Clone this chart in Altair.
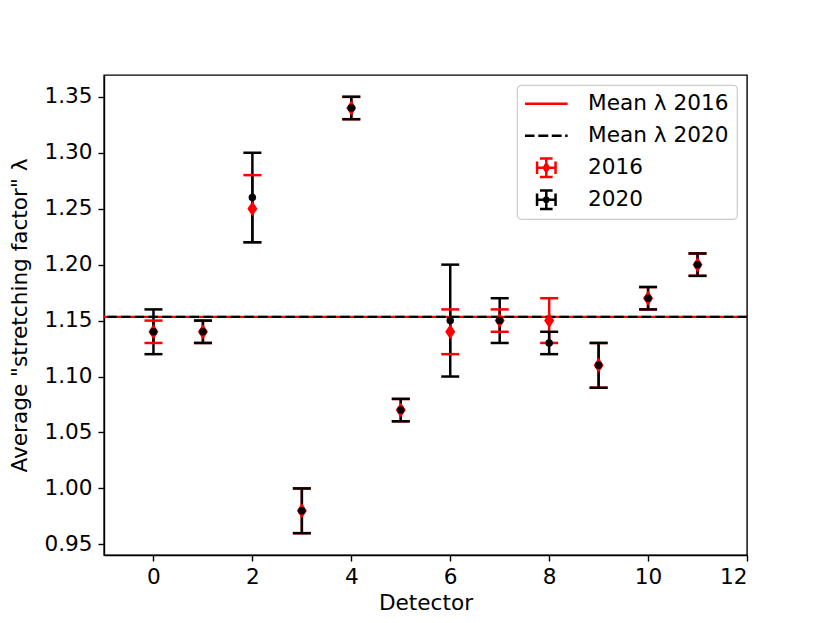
import altair as alt
import pandas as pd

# ---- data ----
detectors = [0, 1, 2, 3, 4, 5, 6, 7, 8, 9, 10, 11]
lam_2016 = [1.14, 1.14, 1.25, 0.98, 1.34, 1.07, 1.14, 1.15, 1.15, 1.11, 1.17, 1.20]
err_2016 = [0.01, 0.01, 0.03, 0.02, 0.01, 0.01, 0.02, 0.01, 0.02, 0.02, 0.01, 0.01]
lam_2020 = [1.14, 1.14, 1.26, 0.98, 1.34, 1.07, 1.15, 1.15, 1.13, 1.11, 1.17, 1.20]
err_2020 = [0.02, 0.01, 0.04, 0.02, 0.01, 0.01, 0.05, 0.02, 0.01, 0.02, 0.01, 0.01]
mean_years = ["2016", "2020"]
mean_values = [1.1533, 1.1533]
legend_labels = ["Mean λ 2016", "Mean λ 2020", "2016", "2020"]
x_ticks = [0, 2, 4, 6, 8, 10, 12]
y_ticks = [0.95, 1.00, 1.05, 1.10, 1.15, 1.20, 1.25, 1.30, 1.35]

rows = []
for yr, vals, errs in (("2016", lam_2016, err_2016), ("2020", lam_2020, err_2020)):
    for d, v, e in zip(detectors, vals, errs):
        rows.append({"detector": d, "year": yr, "value": v,
                     "lo": round(v - e, 4), "hi": round(v + e, 4)})
df = pd.DataFrame(rows)
mean_df = pd.DataFrame({"year": mean_years, "mean": mean_values})
legend_df = pd.DataFrame({"series": legend_labels})

FONT = "DejaVu Sans"
FS = 21.6
RED = "#ff0000"
BLACK = "#000000"

xscale = alt.Scale(domain=[-1, 12], nice=False, zero=False)
yscale = alt.Scale(domain=[0.9405, 1.3695], nice=False, zero=False)
xaxis = alt.Axis(values=x_ticks, format="d", title="Detector", grid=False)
yaxis = alt.Axis(values=y_ticks, format=".2f", title='Average "stretching factor" λ', grid=False)


def X(field="detector"):
    return alt.X(f"{field}:Q", scale=xscale, axis=xaxis, title="Detector")


def Y(field):
    return alt.Y(f"{field}:Q", scale=yscale, axis=yaxis, title='Average "stretching factor" λ')


base = alt.Chart(df)

mean_red = alt.Chart(mean_df).transform_filter("datum.year == '2016'").mark_rule(
    color=RED, strokeWidth=2.2).encode(y=Y("mean"))
mean_black = alt.Chart(mean_df).transform_filter("datum.year == '2020'").mark_rule(
    color=BLACK, strokeWidth=2.2, strokeDash=[9.5, 4.2]).encode(y=Y("mean"))


def bars(year, color):
    return base.transform_filter(f"datum.year == '{year}'").mark_rule(
        color=color, strokeWidth=2.5).encode(x=X(), y=Y("lo"), y2=alt.Y2("hi:Q"))


def caps(year, color):
    return base.transform_filter(f"datum.year == '{year}'").transform_fold(
        ["lo", "hi"], as_=["end", "yv"]).mark_rule(
        color=color, strokeWidth=2.5, xOffset=-9, x2Offset=9).encode(
        x=X(), x2=alt.X2("detector:Q"), y=Y("yv"))


diamonds = base.transform_filter("datum.year == '2016'").mark_point(
    shape="M0,-1L0.67,0L0,1L-0.67,0Z", size=225, filled=True, color=RED, opacity=1,
    strokeWidth=0).encode(x=X(), y=Y("value"))
dots = base.transform_filter("datum.year == '2020'").mark_point(
    shape="circle", size=56, filled=True, color=BLACK, opacity=1,
    strokeWidth=0).encode(x=X(), y=Y("value"))

# legend glyphs drawn as filled outlines (unit = half symbol size)
line_solid = "M-2.03,-0.12H2.03V0.12H-2.03Z"
line_dash = ("M-2.03,-0.12H-1.12V0.12H-2.03Z"
             "M-0.76,-0.12H0.19V0.12H-0.76Z"
             "M0.52,-0.12H1.46V0.12H0.52Z"
             "M1.8,-0.12H2.03V0.12H1.8Z")
box = ("M-0.12,-1H0.12V1H-0.12Z"
       "M-1,-0.12H1V0.12H-1Z"
       "M-0.6,-1H0.6V-0.76H-0.6Z"
       "M-0.6,0.76H0.6V1H-0.6Z"
       "M-1,-0.6H-0.76V0.6H-1Z"
       "M0.76,-0.6H1V0.6H0.76Z")
sym_2016 = box + "M0,-0.62L0.38,0L0,0.62L-0.38,0Z"
sym_2020 = box + "M0.33,0A0.33,0.33,0,1,1,-0.33,0A0.33,0.33,0,1,1,0.33,0Z"

leg = alt.Legend(title=None, orient="top-right", offset=10)
cscale = alt.Scale(domain=legend_labels, range=[RED, BLACK, RED, BLACK])
legend_layer = alt.Chart(legend_df).transform_filter("false").mark_point(
    filled=True, opacity=1, strokeWidth=0).encode(
    x=X(), y=alt.Y("series:N", axis=None),
    color=alt.Color("series:N", scale=cscale, legend=leg),
    shape=alt.Shape("series:N", scale=alt.Scale(domain=legend_labels,
                    range=[line_solid, line_dash, sym_2016, sym_2020]), legend=leg),
)

chart = alt.layer(
    mean_red, mean_black,
    bars("2016", RED), bars("2020", BLACK),
    caps("2016", RED), caps("2020", BLACK),
    diamonds, dots,
).properties(width=643, height=480)

chart = alt.layer(chart, legend_layer).resolve_scale(y="independent").properties(
    width=643, height=480,
    autosize=alt.AutoSizeParams(type="none"),
    padding={"left": 96, "top": 67, "right": 75, "bottom": 60},
).configure_view(stroke=BLACK, strokeWidth=1.4).configure_axis(
    domainColor=BLACK, domainWidth=1.4, tickColor=BLACK, tickWidth=1.4, tickSize=6,
    labelFont=FONT, labelFontSize=FS, labelColor=BLACK,
    titleFont=FONT, titleFontSize=FS, titleFontWeight="normal", titleColor=BLACK,
    grid=False,
).configure_axisY(titlePadding=12, labelPadding=6).configure_axisX(
    titlePadding=5, labelPadding=5).configure_legend(
    labelFont=FONT, labelFontSize=FS, labelColor=BLACK, labelBaseline="middle",
    symbolSize=441, symbolStrokeWidth=0, symbolOffset=10.5, labelOffset=31,
    padding=8, rowPadding=9, fillColor="rgba(255,255,255,0.8)", strokeColor="#cccccc",
    strokeWidth=1.2, cornerRadius=4, labelLimit=400,
)

chart.save("out.html", embed_options={"renderer": "svg", "actions": False})
